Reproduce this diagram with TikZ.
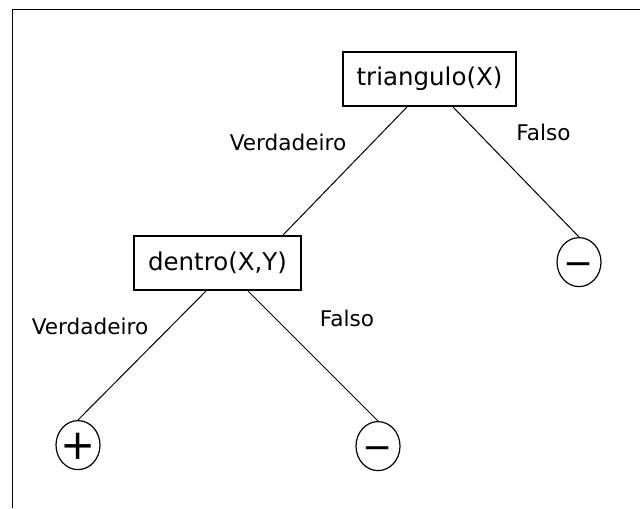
\documentclass[tikz,border=0pt]{standalone}
\usepackage{fontspec}
\setmainfont{DejaVu Sans}
\usetikzlibrary{shapes.geometric, positioning}

\begin{document}
\begin{tikzpicture}[
	test/.style={draw, line width=1pt, minimum height=27pt, inner xsep=7pt, font=\fontsize{12.25pt}{14pt}\selectfont},
	leaf/.style={draw, ellipse, line width=0.6pt, minimum width=22pt, minimum height=24.5pt, inner sep=-3pt, text height=13pt, text depth=0pt, font=\fontsize{18pt}{22pt}\selectfont},
	lbl/.style={inner sep=0pt, font=\fontsize{10.8pt}{13pt}\selectfont},
	branch/.style={line width=0.5pt}
]
\useasboundingbox (0,0) rectangle (320pt,-254pt);

% Frame
\draw[line width=0.8pt] (6.25pt,-254pt) |- (320pt,-4.75pt);

% Root test
\node[test] (tri) at (214.75pt,-39.5pt) {triangulo(X)};

% Second level
\node[test, below=64pt of tri, xshift=-106pt] (dentro) {dentro(X,Y)};
\node[leaf, below=65pt of tri, xshift=74.75pt] (negR) {−};

% Leaves
\node[leaf, below=64.5pt of dentro, xshift=-69.75pt, text height=14pt, font=\fontsize{21pt}{22pt}\selectfont] (pos) {+};
\node[leaf, below=65pt of dentro, xshift=80.25pt] (negL) {−};

% Branch labels
\node[lbl, below=13.2pt of tri, xshift=-70.75pt] (vTri) {Verdadeiro};
\node[lbl, below=8.3pt of tri, xshift=57pt] (fTri) {Falso};
\node[lbl, below=13.3pt of dentro, xshift=-63.75pt] (vDentro) {Verdadeiro};
\node[lbl, below=9.3pt of dentro, xshift=64.75pt] (fDentro) {Falso};

% Branches
\draw[branch] ([xshift=-11.25pt]tri.south) -- ([xshift=32.75pt]dentro.north);
\draw[branch] ([xshift=11.75pt]tri.south) -- (negR.north);
\draw[branch] ([xshift=-5.75pt]dentro.south) -- (pos.north);
\draw[branch] ([xshift=15.25pt]dentro.south) -- (negL.north);
\end{tikzpicture}
\end{document}
